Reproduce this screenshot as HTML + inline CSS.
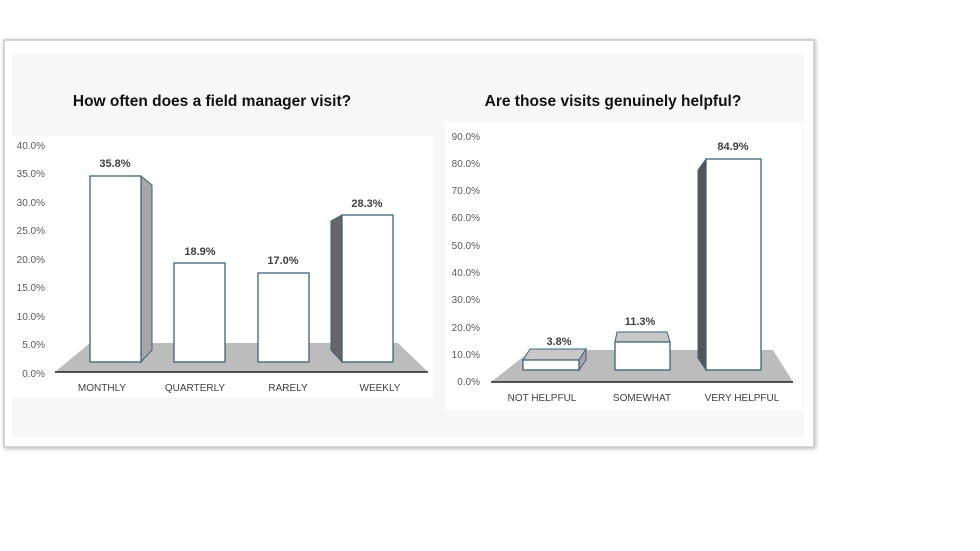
<!DOCTYPE html>
<html><head><style>
body{margin:0;background:#fff;}
svg{display:block;font-family:"Liberation Sans",sans-serif;}
</style></head><body>
<svg width="980" height="551" viewBox="0 0 980 551" xmlns="http://www.w3.org/2000/svg">
<defs><filter id="sh" x="-5%" y="-5%" width="110%" height="110%"><feDropShadow dx="1" dy="1" stdDeviation="2" flood-color="#888" flood-opacity="0.6"/></filter></defs>
<rect x="4" y="40" width="810" height="407" fill="#fff" stroke="#c8c8c8" stroke-width="1.5" filter="url(#sh)"/>
<rect x="12" y="54" width="792" height="383" fill="#f7f7f7"/>
<rect x="12" y="136" width="421" height="261" fill="#fff"/>
<rect x="445" y="122" width="357" height="288" fill="#fff"/>
<text x="212" y="106" text-anchor="middle" font-size="15.5" font-weight="bold" fill="#111">How often does a field manager visit?</text>
<text x="613" y="106" text-anchor="middle" font-size="15.5" font-weight="bold" fill="#111">Are those visits genuinely helpful?</text>
<g font-size="10" fill="#595959" text-anchor="end">
<text x="45" y="149">40.0%</text><text x="45" y="177">35.0%</text><text x="45" y="206">30.0%</text><text x="45" y="234">25.0%</text><text x="45" y="263">20.0%</text><text x="45" y="291">15.0%</text><text x="45" y="320">10.0%</text><text x="45" y="348">5.0%</text><text x="45" y="377">0.0%</text>
</g>
<polygon points="90,343 398,343 428,372 55,372" fill="#bcbcbc"/>
<line x1="55" y1="372" x2="428" y2="372" stroke="#222" stroke-width="1.5"/>
<polygon points="141,176 152,185 152,350 141,362" fill="#a6a6a6" stroke="#3e6478" stroke-width="1"/>
<rect x="90" y="176" width="51" height="186" fill="#fff" stroke="#3e6478" stroke-width="1.3"/>
<rect x="174" y="263" width="51" height="99" fill="#fff" stroke="#3e6478" stroke-width="1.3"/>
<rect x="258" y="273" width="51" height="89" fill="#fff" stroke="#3e6478" stroke-width="1.3"/>
<polygon points="342,215 331,221 331,350 342,362" fill="#666" stroke="#3e6478" stroke-width="1"/>
<rect x="342" y="215" width="51" height="147" fill="#fff" stroke="#3e6478" stroke-width="1.3"/>
<g font-size="11" font-weight="bold" fill="#404040" text-anchor="middle">
<text x="115" y="167">35.8%</text><text x="200" y="255">18.9%</text><text x="283" y="264">17.0%</text><text x="367" y="207">28.3%</text>
</g>
<g font-size="10" fill="#404040" text-anchor="middle">
<text x="102" y="391">MONTHLY</text><text x="195" y="391">QUARTERLY</text><text x="288" y="391">RARELY</text><text x="380" y="391">WEEKLY</text>
</g>
<g font-size="10" fill="#595959" text-anchor="end">
<text x="480" y="140">90.0%</text><text x="480" y="167">80.0%</text><text x="480" y="194">70.0%</text><text x="480" y="221">60.0%</text><text x="480" y="249">50.0%</text><text x="480" y="276">40.0%</text><text x="480" y="303">30.0%</text><text x="480" y="331">20.0%</text><text x="480" y="358">10.0%</text><text x="480" y="385">0.0%</text>
</g>
<polygon points="532,350 773,350 793,382 491,382" fill="#bcbcbc"/>
<line x1="491" y1="382" x2="793" y2="382" stroke="#222" stroke-width="1.5"/>
<polygon points="523,360 530,349 586,349 579,360" fill="#c8c8c8" stroke="#3e6478" stroke-width="1"/>
<polygon points="579,360 586,349 586,360 579,370" fill="#a6a6a6" stroke="#3e6478" stroke-width="1"/>
<rect x="523" y="360" width="56" height="10" fill="#fff" stroke="#3e6478" stroke-width="1.3"/>
<polygon points="615,342 617,332 667,332 670,342" fill="#c8c8c8" stroke="#3e6478" stroke-width="1"/>
<rect x="615" y="342" width="55" height="28" fill="#fff" stroke="#3e6478" stroke-width="1.3"/>
<polygon points="706,159 698,170 698,358 706,370" fill="#555" stroke="#3e6478" stroke-width="1"/>
<rect x="706" y="159" width="55" height="211" fill="#fff" stroke="#3e6478" stroke-width="1.3"/>
<g font-size="11" font-weight="bold" fill="#404040" text-anchor="middle">
<text x="559" y="345">3.8%</text><text x="640" y="325">11.3%</text><text x="733" y="150">84.9%</text>
</g>
<g font-size="10" fill="#404040" text-anchor="middle">
<text x="542" y="401">NOT HELPFUL</text><text x="642" y="401">SOMEWHAT</text><text x="742" y="401">VERY HELPFUL</text>
</g>
</svg>
</body></html>
